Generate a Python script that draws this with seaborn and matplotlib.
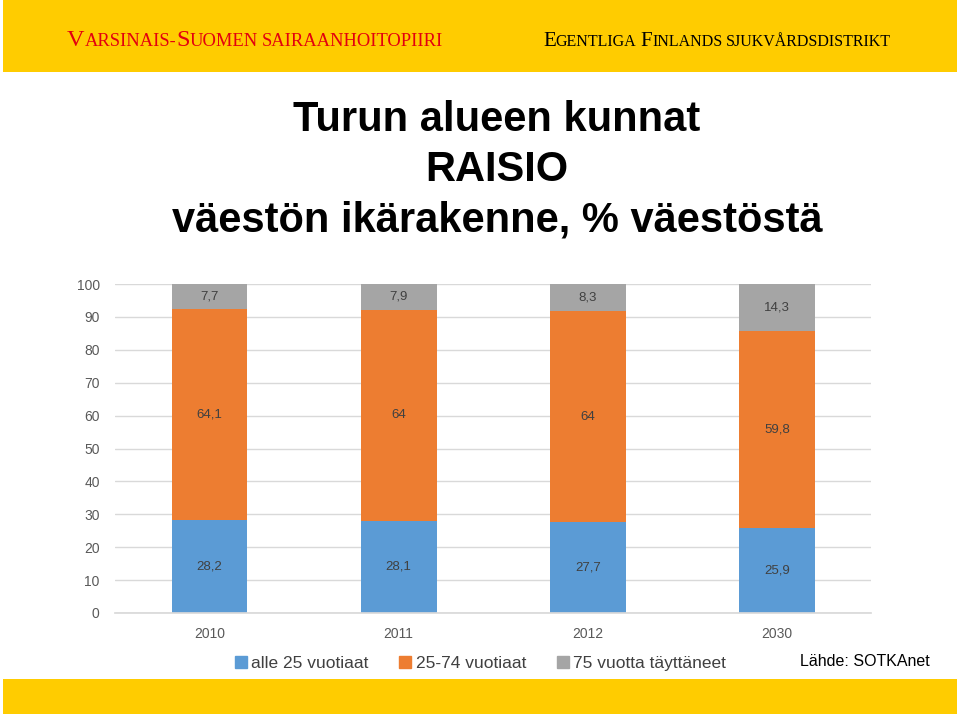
import matplotlib
matplotlib.use("Agg")
import matplotlib.pyplot as plt
import matplotlib.patches as mpatches
from matplotlib.lines import Line2D
import seaborn as sns
import pandas as pd

years = ["2010", "2011", "2012", "2030"]
alle25 = [28.2, 28.1, 27.7, 25.9]
mid = [64.1, 64.0, 64.0, 59.8]
yli75 = [7.7, 7.9, 8.3, 14.3]
series_names = ["alle 25 vuotiaat", "25-74 vuotiaat", "75 vuotta täyttäneet"]
colors = ["#5B9BD5", "#ED7D31", "#A5A5A5"]

sns.set_theme(style="white")
plt.rcParams['font.family'] = ['Liberation Sans', 'DejaVu Sans']

fig = plt.figure(figsize=(9.6, 7.16), dpi=100)
fig.patch.set_facecolor("white")

# header / footer bands
fig.add_artist(mpatches.Rectangle((3/960, 1-72/716), 954/960, 72/716, transform=fig.transFigure,
                                  facecolor="#FFCC00", edgecolor="none", zorder=0))
fig.add_artist(mpatches.Rectangle((3/960, 1-714/716), 954/960, 35/716, transform=fig.transFigure,
                                  facecolor="#FFCC00", edgecolor="none", zorder=0))

ax = fig.add_axes([115/960, 1-613/716, 756.5/960, 329/716])

df = pd.DataFrame({"year": years, "a": alle25, "b": mid, "c": yli75})
bottom_b = [x for x in alle25]
bottom_c = [x + y for x, y in zip(alle25, mid)]

sns.barplot(data=df, x="year", y="a", color=colors[0], width=0.4, ax=ax, saturation=1, linewidth=0)
sns.barplot(data=df, x="year", y="b", color=colors[1], width=0.4, ax=ax, saturation=1, linewidth=0, bottom=bottom_b)
sns.barplot(data=df, x="year", y="c", color=colors[2], width=0.4, ax=ax, saturation=1, linewidth=0, bottom=bottom_c)

def fmt(v):
    s = f"{v:.1f}"
    if s.endswith(".0"):
        s = s[:-2]
    return s.replace(".", ",")

for cont, vals in zip(ax.containers, [alle25, mid, yli75]):
    ax.bar_label(cont, labels=[fmt(v) for v in vals], label_type="center",
                 fontsize=9.5, color="#404040")

ax.set_ylim(0, 100)
ax.set_xlim(-0.5, 3.5)
ax.set_yticks(range(0, 101, 10))
ax.yaxis.grid(True, color="#D9D9D9", linewidth=1)
ax.set_axisbelow(True)
for s in ["top", "right", "left"]:
    ax.spines[s].set_visible(False)
ax.spines["bottom"].set_color("#D9D9D9")
ax.set_xlabel("")
ax.set_ylabel("")
ax.tick_params(axis="both", length=0, labelsize=10, labelcolor="#595959")
ax.tick_params(axis="y", pad=11)
ax.tick_params(axis="x", pad=10)

# titles
for txt, y in [("Turun alueen kunnat", 120), ("RAISIO", 170), ("väestön ikärakenne, % väestöstä", 220)]:
    fig.text(497/960, 1-y/716, txt, ha="center", va="center", fontsize=30,
             fontweight="bold", color="black")

# small-caps header
def small_caps(x0, ybase, words, color, big, small):
    fig.canvas.draw()
    r = fig.canvas.get_renderer()
    x = x0
    for parts in words:
        for s, is_big in parts:
            t = fig.text(x, ybase, s, fontsize=big if is_big else small, color=color,
                         family="Liberation Serif", va="baseline", ha="left")
            bb = t.get_window_extent(renderer=r)
            x += bb.width / fig.bbox.width
        x += 4 / 960

small_caps(67/960, 1-46/716,
           [[("V", True), ("ARSINAIS-", False), ("S", True), ("UOMEN", False)],
            [("SAIRAANHOITOPIIRI", False)]],
           "#E3000F", big=17.5, small=13.3)
small_caps(543/960, 1-46/716,
           [[("E", True), ("GENTLIGA", False)],
            [("F", True), ("INLANDS", False)],
            [("SJUKVÅRDSDISTRIKT", False)]],
           "black", big=15, small=11.5)

# legend
handles = [Line2D([0], [0], marker="s", linestyle="none", markersize=8,
                  markerfacecolor=c, markeredgecolor=c) for c in colors]
leg = fig.legend(handles, series_names, loc="center", bbox_to_anchor=(480/960, 1-663/716),
                 ncol=3, frameon=False, fontsize=12.5, handletextpad=0.2, columnspacing=1.7,
                 handlelength=0.8)
for t in leg.get_texts():
    t.set_color("#404040")

fig.text(800/960, 1-661/716, "Lähde: SOTKAnet", fontsize=11.5, color="black", va="center", ha="left")

fig.savefig("out.png", dpi=100)
